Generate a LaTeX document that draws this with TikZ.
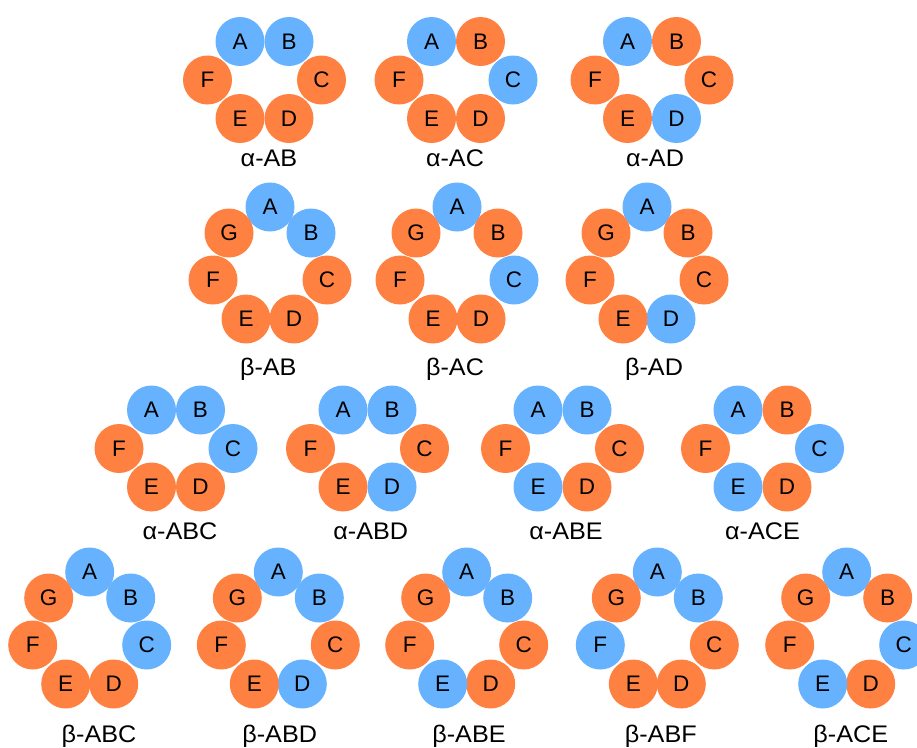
\documentclass[tikz,border=0pt]{standalone}
\usepackage{fontspec}
\setmainfont{Liberation Sans}
\newfontfamily\ringfont{Liberation Sans}[FakeStretch=1.05]
\usetikzlibrary{calc}
\definecolor{beadblue}{HTML}{66B2FF}
\definecolor{beadorange}{HTML}{FF8142}

\tikzset{
  bead/.style={circle, minimum size=49pt, inner sep=0pt, font=\fontsize{22.5}{22.5}\selectfont},
  bead0/.style={bead, fill=beadorange},
  bead1/.style={bead, fill=beadblue},
  ringlabel/.style={anchor=base, font=\ringfont\fontsize{24}{24}\selectfont}
}

% six beads round #2, #3 = blue flags for A..F
\newcommand{\hexring}[3]{%
  \coordinate (#1) at (#2);
  \foreach \l/\dx/\dy [count=\i from 0] in {A/-24.5/-38.5, B/24.5/-38.5, C/57/0, D/24.5/38.5, E/-24.5/38.5, F/-57/0} {
    \pgfmathtruncatemacro\b{{#3}[\i]}
    \node[bead\b] (#1-\l) at ($(#1)+(\dx,\dy)$) {\l};
  }
}
% seven beads round #2, #3 = blue flags for A..G
\newcommand{\heptring}[3]{%
  \coordinate (#1) at (#2);
  \foreach \l/\dx/\dy [count=\i from 0] in {A/0/-58, B/41/-32, C/57/15, D/24/54, E/-24/54, F/-57/15, G/-41/-32} {
    \pgfmathtruncatemacro\b{{#3}[\i]}
    \node[bead\b] (#1-\l) at ($(#1)+(\dx,\dy)$) {\l};
  }
}

\begin{document}
\begin{tikzpicture}[x=1pt, y=-1pt]
  \useasboundingbox (0,0) rectangle (917,747);

  % alpha, two marked
  \hexring{aAB}{264.5,80}{1,1,0,0,0,0}
  \hexring{aAC}{456,80}{1,0,1,0,0,0}
  \hexring{aAD}{652,80}{1,0,0,1,0,0}
  \node[ringlabel] (aAB-name) at (269,166.7) {α-AB};
  \node[ringlabel] (aAC-name) at (455,166.7) {α-AC};
  \node[ringlabel] (aAD-name) at (655,166.7) {α-AD};

  % beta, two marked
  \heptring{bAB}{270,265}{1,1,0,0,0,0,0}
  \heptring{bAC}{457,265}{1,0,1,0,0,0,0}
  \heptring{bAD}{647,265}{1,0,0,1,0,0,0}
  \node[ringlabel] (bAB-name) at (268.3,375) {β-AB};
  \node[ringlabel] (bAC-name) at (455,375) {β-AC};
  \node[ringlabel] (bAD-name) at (654,375) {β-AD};

  % alpha, three marked
  \hexring{aABC}{176,448.5}{1,1,1,0,0,0}
  \hexring{aABD}{367.5,448.5}{1,1,0,1,0,0}
  \hexring{aABE}{562.5,448.5}{1,1,0,0,1,0}
  \hexring{aACE}{762.5,448.5}{1,0,1,0,1,0}
  \node[ringlabel] (aABC-name) at (180,539.3) {α-ABC};
  \node[ringlabel] (aABD-name) at (370.8,539.3) {α-ABD};
  \node[ringlabel] (aABE-name) at (566,539.3) {α-ABE};
  \node[ringlabel] (aACE-name) at (762.5,539.3) {α-ACE};

  % beta, three marked
  \heptring{bABC}{89.7,630}{1,1,1,0,0,0,0}
  \heptring{bABD}{278.3,630}{1,1,0,1,0,0,0}
  \heptring{bABE}{466.7,630}{1,1,0,0,1,0,0}
  \heptring{bABF}{657.3,630}{1,1,0,0,0,1,0}
  \heptring{bACE}{846.7,630}{1,0,1,0,1,0,0}
  \node[ringlabel] (bABC-name) at (99,742.7) {β-ABC};
  \node[ringlabel] (bABD-name) at (279.7,742.7) {β-ABD};
  \node[ringlabel] (bABE-name) at (469,742.7) {β-ABE};
  \node[ringlabel] (bABF-name) at (660.8,742.7) {β-ABF};
  \node[ringlabel] (bACE-name) at (850.8,742.7) {β-ACE};
\end{tikzpicture}
\end{document}
